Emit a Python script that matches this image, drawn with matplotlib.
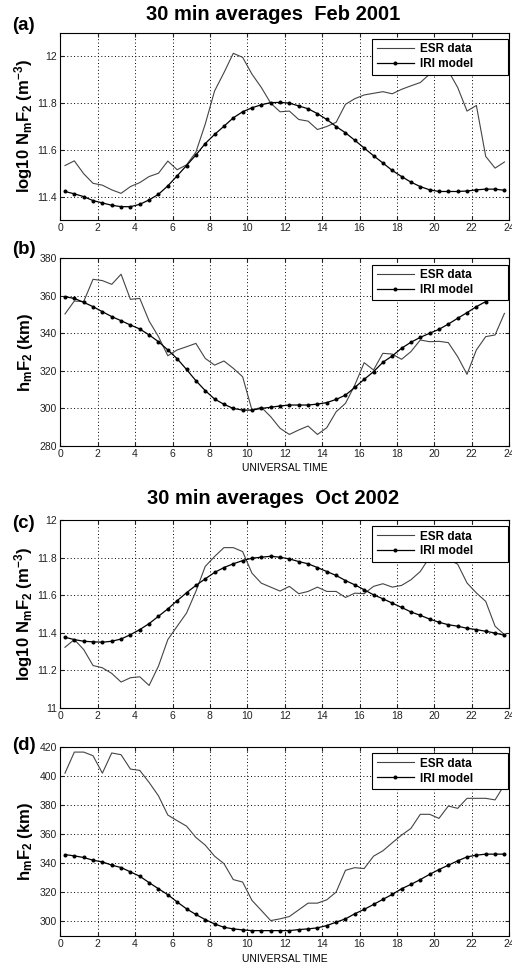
import numpy as np
import matplotlib
matplotlib.use('Agg')
import matplotlib.pyplot as plt

plt.rcParams['font.family'] = ['Liberation Sans', 'DejaVu Sans']
plt.rcParams['mathtext.default'] = 'regular'

# 30 min averages, UT hours at the middle of each bin
hours = np.arange(0.25, 24.0, 0.5)

# (a) Feb 2001, log10 NmF2
esr_nm_feb = [11.533, 11.553, 11.498, 11.457, 11.449, 11.429, 11.414, 11.443,
              11.460, 11.486, 11.500, 11.552, 11.515, 11.536, 11.590, 11.710,
              11.852, 11.930, 12.013, 11.996, 11.924, 11.867, 11.800, 11.763,
              11.766, 11.730, 11.723, 11.687, 11.700, 11.718, 11.795, 11.819,
              11.835, 11.842, 11.849, 11.840, 11.859, 11.874, 11.888, 11.924,
              11.967, 11.938, 11.867, 11.766, 11.790, 11.572, 11.522, 11.548]
iri_nm_feb = [11.422, 11.412, 11.400, 11.383, 11.373, 11.363, 11.357, 11.357,
              11.367, 11.386, 11.410, 11.446, 11.489, 11.533, 11.578, 11.627,
              11.666, 11.701, 11.737, 11.763, 11.780, 11.793, 11.802, 11.803,
              11.800, 11.788, 11.776, 11.755, 11.730, 11.700, 11.673, 11.641,
              11.608, 11.575, 11.544, 11.512, 11.486, 11.462, 11.443, 11.429,
              11.422, 11.422, 11.422, 11.424, 11.429, 11.432, 11.432, 11.427]

# (b) Feb 2001, hmF2 (km)
esr_hm_feb = [350.3, 357.2, 356.9, 368.8, 368.1, 366.1, 371.5, 358.1,
              358.6, 346.5, 338.2, 328.0, 331.1, 332.8, 334.6, 326.6,
              323.0, 325.2, 321.3, 316.8, 299.0, 300.5, 295.5, 289.3,
              286.0, 288.4, 290.5, 286.0, 289.6, 298.1, 302.6, 312.4,
              324.3, 320.4, 329.3, 328.9, 326.1, 330.2, 336.4, 335.5,
              335.7, 335.0, 327.5, 318.1, 331.1, 338.2, 339.1, 350.6]
iri_hm_feb = [359.5, 358.6, 356.5, 354.2, 351.5, 348.9, 346.7, 344.4,
              342.3, 339.1, 335.5, 331.1, 326.4, 320.7, 314.7, 309.4,
              304.9, 302.1, 299.9, 299.0, 299.0, 299.9, 300.5, 301.2,
              301.7, 301.7, 301.7, 302.2, 303.0, 304.7, 307.0, 311.1,
              315.4, 319.5, 324.5, 327.9, 332.0, 335.2, 337.8, 340.0,
              342.1, 344.9, 348.0, 351.0, 354.2, 356.9, 359.2, 361.3]

# (c) Oct 2002, log10 NmF2
esr_nm_oct = [11.323, 11.364, 11.311, 11.226, 11.214, 11.184, 11.138, 11.161,
              11.166, 11.120, 11.223, 11.364, 11.435, 11.505, 11.620, 11.753,
              11.806, 11.853, 11.853, 11.832, 11.717, 11.664, 11.643, 11.622,
              11.647, 11.608, 11.620, 11.643, 11.620, 11.620, 11.588, 11.611,
              11.608, 11.647, 11.661, 11.643, 11.652, 11.682, 11.726, 11.802,
              11.850, 11.790, 11.765, 11.665, 11.612, 11.567, 11.435, 11.390]
iri_nm_oct = [11.376, 11.364, 11.355, 11.352, 11.350, 11.355, 11.367, 11.390,
              11.417, 11.449, 11.488, 11.527, 11.571, 11.613, 11.652, 11.687,
              11.721, 11.747, 11.767, 11.784, 11.797, 11.802, 11.807, 11.802,
              11.793, 11.779, 11.767, 11.747, 11.726, 11.705, 11.678, 11.655,
              11.629, 11.602, 11.581, 11.558, 11.535, 11.511, 11.493, 11.473,
              11.456, 11.443, 11.435, 11.424, 11.417, 11.408, 11.399, 11.387]

# (d) Oct 2002, hmF2 (km)
esr_hm_oct = [402.0, 416.5, 416.5, 414.0, 402.0, 415.9, 414.7, 404.8,
              403.9, 395.6, 386.4, 373.2, 369.3, 365.6, 357.8, 352.5,
              344.9, 339.8, 328.8, 327.1, 314.5, 307.6, 300.6, 301.8,
              303.4, 308.0, 312.6, 312.6, 314.9, 320.2, 335.2, 337.0,
              336.4, 344.9, 348.6, 354.1, 359.4, 364.0, 373.7, 373.7,
              370.9, 379.4, 377.8, 384.7, 384.7, 384.7, 383.6, 394.0]
iri_hm_oct = [346.0, 345.1, 344.0, 342.1, 341.0, 338.7, 337.1, 334.1,
              331.1, 326.7, 322.5, 318.4, 313.4, 308.7, 304.8, 301.3,
              298.3, 296.0, 294.9, 294.2, 293.7, 293.7, 293.7, 293.7,
              293.7, 294.4, 294.9, 295.6, 297.2, 299.5, 301.8, 305.3,
              308.3, 311.7, 315.2, 318.6, 322.5, 325.5, 328.8, 332.4,
              335.7, 338.7, 341.7, 344.4, 345.6, 346.3, 346.3, 346.3]

xticks = [0, 2, 4, 6, 8, 10, 12, 14, 16, 18, 20, 22, 24]
titles = ['30 min averages  Feb 2001', '30 min averages  Oct 2002']
panel_tags = ['(a)', '(b)', '(c)', '(d)']
nm_label = r'log10 N$_m$F$_2$ (m$^{-3}$)'
hm_label = r'h$_m$F$_2$ (km)'


def draw_panel(ax, esr, iri, ylim, yticks, ylabel, xlabel=None):
    ax.plot(hours, esr, '-', color='#444444', lw=0.8, label='ESR data')
    ax.plot(hours, iri, '.-', color='black', lw=0.9, ms=3.8, label='IRI model')
    ax.set_xlim(0, 24)
    ax.set_ylim(*ylim)
    ax.set_xticks(xticks)
    ax.set_yticks(yticks)
    ax.set_yticklabels(['%g' % v for v in yticks])
    ax.grid(True, linestyle=(0, (1, 2.5)), color='black', lw=0.7)
    ax.tick_params(direction='in', top=True, right=True, length=3,
                   labelsize=7.5, pad=2.5, colors='#222222')
    for s in ax.spines.values():
        s.set_linewidth(0.8)
    ax.set_ylabel(ylabel, fontsize=12, fontweight='bold')
    # label's lower edge (right side once rotated) sits just left of the ticks
    ax.yaxis.set_label_coords(-0.057, 0.5)
    if xlabel:
        ax.set_xlabel(xlabel, fontsize=7.5, labelpad=3)
    leg = ax.legend(loc='upper left', bbox_to_anchor=(0.6955, 0.78, 0.3025, 0.186),
                    mode='expand', borderaxespad=0, fancybox=False, framealpha=1,
                    edgecolor='black', prop={'weight': 'bold', 'size': 8.5},
                    handlelength=3.2, handletextpad=0.5, labelspacing=0.25,
                    borderpad=0.35)
    leg.get_frame().set_linewidth(0.8)


fig = plt.figure(figsize=(5.12, 9.68), dpi=100)
W, H = 512.0, 968.0
left, width = 60.3 / W, 448.8 / W
tops = [33, 258.3, 520, 747]
bottoms = [220, 445.7, 708, 936]
axes = [fig.add_axes([left, 1 - b / H, width, (b - t) / H]) for t, b in zip(tops, bottoms)]

draw_panel(axes[0], esr_nm_feb, iri_nm_feb, (11.3, 12.1), [11.4, 11.6, 11.8, 12.0], nm_label)
draw_panel(axes[1], esr_hm_feb, iri_hm_feb, (280, 380), [280, 300, 320, 340, 360, 380], hm_label,
           'UNIVERSAL TIME')
draw_panel(axes[2], esr_nm_oct, iri_nm_oct, (11.0, 12.0), [11.0, 11.2, 11.4, 11.6, 11.8, 12.0], nm_label)
draw_panel(axes[3], esr_hm_oct, iri_hm_oct, (290, 420), [300, 320, 340, 360, 380, 400, 420], hm_label,
           'UNIVERSAL TIME')

fig.text(273 / W, 1 - 15 / H, titles[0], ha='center', va='center', fontsize=14.5, fontweight='bold')
fig.text(273 / W, 1 - 498 / H, titles[1], ha='center', va='center', fontsize=14.5, fontweight='bold')

for tag, yc in zip(panel_tags, [26, 249, 524, 746]):
    fig.text(12 / W, 1 - yc / H, tag, ha='left', va='center', fontsize=13.5, fontweight='bold')

fig.savefig('out.png', dpi=100)
